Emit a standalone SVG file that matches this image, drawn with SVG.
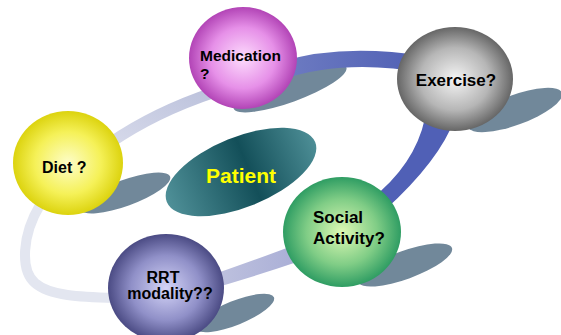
<svg xmlns="http://www.w3.org/2000/svg" width="561" height="335" viewBox="0 0 561 335">
<defs>
<radialGradient id="gMed" cx="50%" cy="50%" r="50%"><stop offset="0" stop-color="#fddcfd"/><stop offset="0.6" stop-color="#e690e8"/><stop offset="1" stop-color="#b244b6"/></radialGradient>
<radialGradient id="gEx" cx="50%" cy="50%" r="50%"><stop offset="0" stop-color="#f4f4f4"/><stop offset="0.6" stop-color="#b6b6b6"/><stop offset="1" stop-color="#666666"/></radialGradient>
<radialGradient id="gDiet" cx="50%" cy="50%" r="50%"><stop offset="0" stop-color="#fdfdc8"/><stop offset="0.6" stop-color="#f5f158"/><stop offset="1" stop-color="#dcd30e"/></radialGradient>
<radialGradient id="gSoc" cx="50%" cy="50%" r="50%"><stop offset="0" stop-color="#def9b4"/><stop offset="0.6" stop-color="#80cd86"/><stop offset="1" stop-color="#2f9d63"/></radialGradient>
<radialGradient id="gRrt" cx="50%" cy="50%" r="50%"><stop offset="0" stop-color="#d4d4f7"/><stop offset="0.6" stop-color="#9090c8"/><stop offset="1" stop-color="#4b4b84"/></radialGradient>
<linearGradient id="gPat" x1="0" y1="0" x2="1" y2="0"><stop offset="0" stop-color="#4f9098"/><stop offset="0.55" stop-color="#134f59"/><stop offset="1" stop-color="#4d8e96"/></linearGradient>
<linearGradient id="gTop" x1="0" y1="0" x2="1" y2="0"><stop offset="0" stop-color="#6e7cc2"/><stop offset="1" stop-color="#4f5fb4"/></linearGradient>
<linearGradient id="gLeft" x1="0" y1="1" x2="1" y2="0"><stop offset="0" stop-color="#d6d9ea"/><stop offset="1" stop-color="#bcc2dc"/></linearGradient>
<linearGradient id="gBot" x1="0" y1="0" x2="1" y2="0"><stop offset="0" stop-color="#c2c5e0"/><stop offset="1" stop-color="#a9aed6"/></linearGradient>
</defs>
<style>
.shadow{fill:#71889a}
.lbl{font-family:"Liberation Sans",Arial,sans-serif;font-weight:bold;fill:#000}
</style>
<rect width="561" height="335" fill="#ffffff"/>
<g id="shadows">
<ellipse class="shadow" cx="290" cy="88" rx="60" ry="14" transform="rotate(-20 290 88)"/>
<ellipse class="shadow" cx="515" cy="110" rx="50" ry="15" transform="rotate(-20 515 110)"/>
<ellipse class="shadow" cx="125" cy="193" rx="48" ry="13" transform="rotate(-20 125 193)"/>
<ellipse class="shadow" cx="405" cy="265" rx="50" ry="14" transform="rotate(-20 405 265)"/>
<ellipse class="shadow" cx="235" cy="313" rx="42" ry="12" transform="rotate(-22 235 313)"/>
</g>
<g id="connectors">
<path d="M 280 62 Q 341 43 425 56 L 425 73 Q 345 58 280 80 Z" fill="url(#gTop)"/>
<path d="M 425 118 Q 415 165 370 200 L 385 210 Q 440 160 455 118 Z" fill="#5060b6"/>
<path d="M 200 279 Q 250 262 300 243 L 300 261 Q 250 278 200 292 Z" fill="url(#gBot)"/>
<path d="M 40 205 C 22 235, 20 270, 35 283 C 50 296, 80 297, 115 298" fill="none" stroke="#e3e6f0" stroke-width="10"/>
<path d="M 110 143 Q 155 112 215 92" fill="none" stroke="url(#gLeft)" stroke-width="11"/>
</g>
<g id="patient">
<ellipse cx="241" cy="172" rx="80" ry="35" fill="url(#gPat)" transform="rotate(-22 241 172)"/>
<text x="241" y="183" text-anchor="middle" style="font-family:'Liberation Sans',Arial,sans-serif;font-weight:bold;font-size:21px;fill:#ffff00">Patient</text>
</g>
<g id="medication">
<ellipse cx="243" cy="58" rx="54" ry="51" fill="url(#gMed)"/>
<text class="lbl" x="200" y="61" font-size="15.5">Medication</text>
<text class="lbl" x="200" y="79" font-size="15.5">?</text>
</g>
<g id="exercise">
<ellipse cx="455" cy="79" rx="58" ry="52" fill="url(#gEx)"/>
<text class="lbl" x="456" y="86" font-size="17" text-anchor="middle">Exercise?</text>
</g>
<g id="diet">
<ellipse cx="68" cy="163" rx="55" ry="52" fill="url(#gDiet)"/>
<text class="lbl" x="42" y="173" font-size="16">Diet ?</text>
</g>
<g id="social">
<ellipse cx="342" cy="232" rx="59" ry="55" fill="url(#gSoc)"/>
<text class="lbl" x="313" y="223" font-size="17">Social</text>
<text class="lbl" x="313" y="244" font-size="17">Activity?</text>
</g>
<g id="rrt">
<ellipse cx="166" cy="288" rx="58" ry="54" fill="url(#gRrt)"/>
<text class="lbl" x="163" y="283" font-size="16" text-anchor="middle">RRT</text>
<text class="lbl" x="170" y="299" font-size="16" text-anchor="middle">modality??</text>
</g>
</svg>
